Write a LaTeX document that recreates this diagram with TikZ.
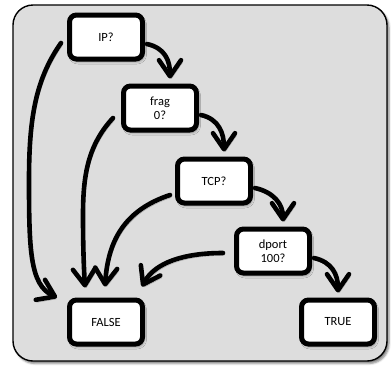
\documentclass[tikz,border=0pt]{standalone}
\usepackage{fontspec}
\setmainfont{Carlito}
\usetikzlibrary{arrows.meta,shadows.blur}
\definecolor{panel}{RGB}{221,221,221}
\begin{document}
\begin{tikzpicture}[x=1pt,y=-1pt,
  test/.style={draw=black, line width=5pt, fill=white, rounded corners=7pt,
    minimum width=73pt, minimum height=44pt, inner sep=0pt, align=center,
    font=\fontsize{12.5}{14}\selectfont,
    blur shadow={shadow xshift=1.5pt, shadow yshift=-2.5pt, shadow blur radius=2.5pt, shadow opacity=45}},
  flow/.style={line width=4.6pt, line cap=round,
    -{Straight Barb[length=16pt,width=22pt,line cap=round,line join=round]},
    preaction={draw=black, opacity=0.25, transform canvas={shift={(1.5pt,-2.5pt)}}}},
]
\path[use as bounding box] (0,0) rectangle (391,365);

% panel
\draw[line width=1.4pt, fill=panel, rounded corners=20pt,
  blur shadow={shadow xshift=2pt, shadow yshift=-2.5pt, shadow blur radius=2pt, shadow opacity=50}]
  (13,5) rectangle (387,361);

% decision boxes
\node[test] (ip)    at (106,37)  {IP?};
\node[test] (frag)  at (160,108) {frag\\0?};
\node[test] (tcp)   at (214,181) {TCP?};
\node[test] (dport) at (273,251) {dport\\100?};
\node[test] (true)  at (338,322) {TRUE};
\node[test] (false) at (106,322) {FALSE};

% pass chain
\draw[flow] ([xshift=2pt,yshift=-7pt]ip.east) .. controls +(18,4) and +(0,-18) .. ([xshift=10pt,yshift=5pt]frag.north);
\draw[flow] ([xshift=2pt,yshift=-7pt]frag.east) .. controls +(18,4) and +(0,-18) .. ([xshift=10pt,yshift=5pt]tcp.north);
\draw[flow] ([xshift=2pt,yshift=-7pt]tcp.east) .. controls +(18,4) and +(0,-18) .. ([xshift=10pt,yshift=5pt]dport.north);
\draw[flow] ([xshift=2pt,yshift=-7pt]dport.east) .. controls +(18,4) and +(0,-18) .. ([xshift=0pt,yshift=5pt]true.north);

% fail branches
\draw[flow] ([xshift=-6pt,yshift=-6pt]ip.west) .. controls (35,80) and (29,120) .. (29,180)
  .. controls (29,250) and (30,285) .. ([xshift=-10pt]false.north west);
\draw[flow] ([xshift=-8pt,yshift=-10pt]frag.west) .. controls (88,145) and (83,175) .. (83,215)
  .. controls (83,250) and (84,270) .. ([xshift=-21pt,yshift=10pt]false.north);
\draw[flow] ([xshift=-5pt,yshift=-14pt]tcp.west) .. controls (125,210) and (108,240) .. ([xshift=-1pt,yshift=11pt]false.north);
\draw[flow] ([xshift=-11pt,yshift=-2pt]dport.west) .. controls (185,253) and (155,262) .. ([xshift=36pt,yshift=11pt]false.north);
\end{tikzpicture}
\end{document}
